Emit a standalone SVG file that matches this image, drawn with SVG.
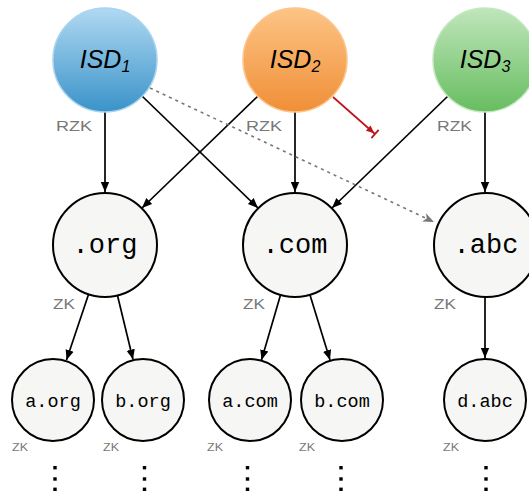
<svg xmlns="http://www.w3.org/2000/svg" width="529" height="494" viewBox="0 0 529 494">
<defs>
<linearGradient id="gBlue" x1="0" y1="0" x2="0" y2="1"><stop offset="0" stop-color="#b0d9f2"/><stop offset="1" stop-color="#3a93c9"/></linearGradient>
<linearGradient id="gOrange" x1="0" y1="0" x2="0" y2="1"><stop offset="0" stop-color="#fdc485"/><stop offset="1" stop-color="#f08f37"/></linearGradient>
<linearGradient id="gGreen" x1="0" y1="0" x2="0" y2="1"><stop offset="0" stop-color="#c0e6bb"/><stop offset="1" stop-color="#67bd60"/></linearGradient>
<marker id="ah" viewBox="0 0 10 10" refX="10" refY="5" markerWidth="10" markerHeight="10" markerUnits="userSpaceOnUse" orient="auto"><path d="M0,0.8 L10,5 L0,9.2 Z" fill="#000"/></marker>
<marker id="ahRed" viewBox="0 0 12 12" refX="10" refY="6" markerWidth="12" markerHeight="12" markerUnits="userSpaceOnUse" orient="auto"><path d="M1,2.5 L9,6 L1,9.5 Z" fill="#c0141c"/><path d="M10,0.5 L10,11.5" stroke="#c0141c" stroke-width="1.8"/></marker>
<marker id="ahGrey" viewBox="0 0 12 10" refX="11" refY="5" markerWidth="12" markerHeight="10" markerUnits="userSpaceOnUse" orient="auto"><path d="M0,0.5 L11,5 L0,9.5 L3,5 Z" fill="#777"/></marker>
<rect id="dot" x="-1.7" y="-1.7" width="3.4" height="3.4" fill="#000"/>
</defs>
<style>
.isd{font-family:"Liberation Sans",Arial,sans-serif;font-style:italic;font-size:25px;fill:#000;text-anchor:middle}
.sub{font-size:16px}
.node{fill:#f6f6f4;stroke:#000;stroke-width:2}
.big{font-family:"Liberation Mono","Courier New",monospace;font-size:27px;fill:#000;text-anchor:middle}
.small{font-family:"Liberation Mono","Courier New",monospace;font-size:18.5px;fill:#000;text-anchor:middle}
.lbl{font-family:"Liberation Sans",Arial,sans-serif;fill:#777}
.edge{stroke:#000;stroke-width:1.7;fill:none;marker-end:url(#ah)}
</style>
<g id="connectors">
<line class="edge" x1="105" y1="112" x2="105" y2="192"/>
<line class="edge" x1="142" y1="96" x2="258" y2="208"/>
<line class="edge" x1="258" y1="96" x2="142" y2="208"/>
<line class="edge" x1="295" y1="112" x2="295" y2="192"/>
<line class="edge" x1="448" y1="96" x2="332" y2="208"/>
<line class="edge" x1="485" y1="112" x2="485" y2="192"/>
<line x1="333" y1="97" x2="375" y2="134" stroke="#c0141c" stroke-width="1.7" marker-end="url(#ahRed)"/>
<line x1="150" y1="88" x2="434" y2="222" stroke="#777" stroke-width="1.6" stroke-dasharray="3 4" marker-end="url(#ahGrey)"/>
<line class="edge" x1="88.5" y1="294.5" x2="66.5" y2="360"/>
<line class="edge" x1="117.5" y1="295.5" x2="133" y2="359.5"/>
<line class="edge" x1="280.5" y1="295" x2="261.5" y2="360"/>
<line class="edge" x1="310" y1="295" x2="330" y2="360"/>
<line class="edge" x1="485" y1="297" x2="485" y2="358"/>
</g>
<g id="isd1">
<circle cx="105" cy="60" r="52" fill="url(#gBlue)" stroke="#a9d3ee" stroke-width="1.5"/>
<text class="isd" x="105" y="68">ISD<tspan class="sub" dy="4">1</tspan></text>
<text class="lbl" x="56" y="131" font-size="15" textLength="36" lengthAdjust="spacingAndGlyphs">RZK</text>
</g>
<g id="isd2">
<circle cx="295" cy="60" r="52" fill="url(#gOrange)" stroke="#fcc58c" stroke-width="1.5"/>
<text class="isd" x="295" y="68">ISD<tspan class="sub" dy="4">2</tspan></text>
<text class="lbl" x="246" y="131" font-size="15" textLength="36" lengthAdjust="spacingAndGlyphs">RZK</text>
</g>
<g id="isd3">
<circle cx="485" cy="60" r="52" fill="url(#gGreen)" stroke="#c4e7bf" stroke-width="1.5"/>
<text class="isd" x="485" y="68">ISD<tspan class="sub" dy="4">3</tspan></text>
<text class="lbl" x="437" y="131" font-size="15" textLength="35" lengthAdjust="spacingAndGlyphs">RZK</text>
</g>
<g id="org">
<circle class="node" cx="105" cy="245" r="52"/>
<text class="big" x="105" y="253">.org</text>
<text class="lbl" x="53" y="309" font-size="15" textLength="22" lengthAdjust="spacingAndGlyphs">ZK</text>
</g>
<g id="com">
<circle class="node" cx="295" cy="245" r="52"/>
<text class="big" x="295" y="253">.com</text>
<text class="lbl" x="243" y="309" font-size="15" textLength="22" lengthAdjust="spacingAndGlyphs">ZK</text>
</g>
<g id="abc">
<circle class="node" cx="486" cy="245" r="52"/>
<text class="big" x="486" y="253">.abc</text>
<text class="lbl" x="434" y="309" font-size="15" textLength="22" lengthAdjust="spacingAndGlyphs">ZK</text>
</g>
<g id="a-org">
<circle class="node" cx="53" cy="400" r="41"/>
<text class="small" x="53" y="407">a.org</text>
<text class="lbl" x="12" y="451" font-size="10" textLength="16" lengthAdjust="spacingAndGlyphs">ZK</text>
<use href="#dot" x="55" y="467.7"/><use href="#dot" x="55" y="479"/><use href="#dot" x="55" y="489.3"/>
</g>
<g id="b-org">
<circle class="node" cx="143" cy="400" r="41"/>
<text class="small" x="143" y="407">b.org</text>
<text class="lbl" x="103" y="451" font-size="10" textLength="16" lengthAdjust="spacingAndGlyphs">ZK</text>
<use href="#dot" x="144.5" y="467.7"/><use href="#dot" x="144.5" y="479"/><use href="#dot" x="144.5" y="489.3"/>
</g>
<g id="a-com">
<circle class="node" cx="250" cy="400" r="41"/>
<text class="small" x="250" y="407">a.com</text>
<text class="lbl" x="207" y="451" font-size="10" textLength="16" lengthAdjust="spacingAndGlyphs">ZK</text>
<use href="#dot" x="247.5" y="467.7"/><use href="#dot" x="247.5" y="479"/><use href="#dot" x="247.5" y="489.3"/>
</g>
<g id="b-com">
<circle class="node" cx="342" cy="400" r="41"/>
<text class="small" x="342" y="407">b.com</text>
<text class="lbl" x="299" y="451" font-size="10" textLength="16" lengthAdjust="spacingAndGlyphs">ZK</text>
<use href="#dot" x="341" y="467.7"/><use href="#dot" x="341" y="479"/><use href="#dot" x="341" y="489.3"/>
</g>
<g id="d-abc">
<circle class="node" cx="485" cy="400" r="41"/>
<text class="small" x="485" y="407">d.abc</text>
<text class="lbl" x="443" y="451" font-size="10" textLength="16" lengthAdjust="spacingAndGlyphs">ZK</text>
<use href="#dot" x="486" y="467.7"/><use href="#dot" x="486" y="479"/><use href="#dot" x="486" y="489.3"/>
</g>
</svg>
